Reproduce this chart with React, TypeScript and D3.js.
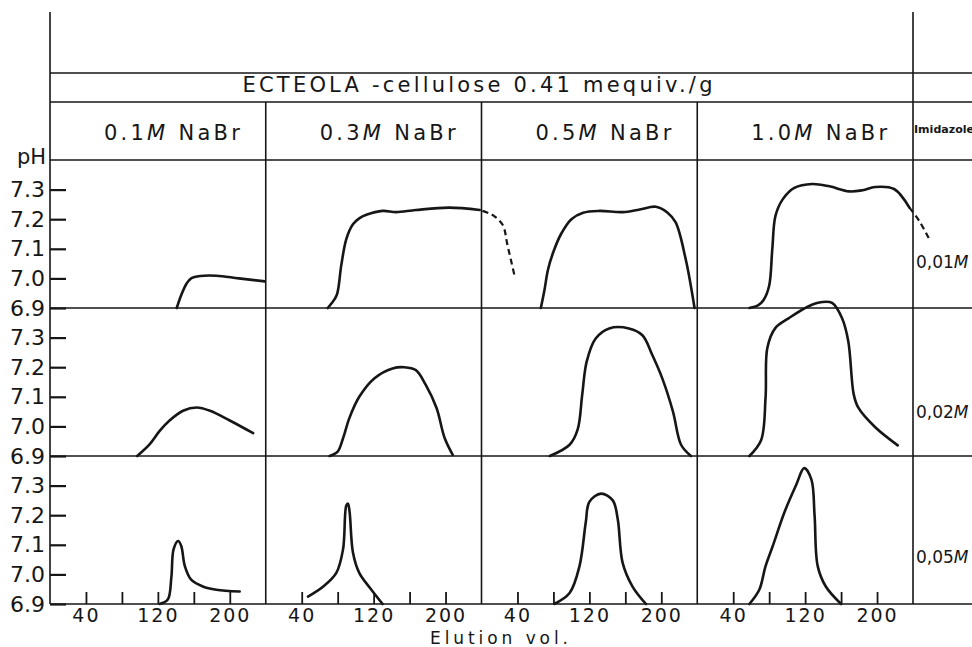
import React, { useRef, useEffect } from "react";
import * as d3 from "d3";

// NaBr concentration per column, imidazole concentration per row
const cols = ["0.1", "0.3", "0.5", "1.0"];
const rows = ["0,01", "0,02", "0,05"];
const yTicks = [6.9, 7.0, 7.1, 7.2, 7.3];
const xTicks = [40, 80, 120, 160, 200];
const xLabels = [40, 120, 200];

// [elution vol, pH]
const r1c1 = [[141, 6.9], [146, 6.944], [152, 6.983], [157, 7.0], [167, 7.008], [185, 7.009], [210, 7.0], [239, 6.99]];
const r1c2 = [[69, 6.9], [73, 6.915], [79, 6.944], [84, 7.044], [89.6, 7.133], [97, 7.183], [104, 7.203], [112, 7.215], [130, 7.228], [145, 7.224], [167, 7.231], [204, 7.239], [238, 7.231]];
const r1c3 = [[66, 6.9], [70, 6.96], [74, 7.03], [80, 7.09], [88.5, 7.15], [100, 7.2], [113, 7.222], [131, 7.228], [157, 7.224], [176, 7.233], [194, 7.242], [207, 7.222], [216, 7.189], [227, 7.067], [237, 6.9]];
const r1c3Dash = [[1, 7.228], [10, 7.218], [16, 7.206], [24, 7.178], [29, 7.111], [37, 7.006]];
const r1c4 = [[58, 6.9], [68, 6.91], [74, 6.928], [80, 6.975], [83.5, 7.1], [87, 7.211], [95, 7.267], [108, 7.306], [128, 7.319], [147, 7.311], [169, 7.294], [184, 7.298], [198, 7.309], [219, 7.302], [236, 7.239]];
const r1c4Dash = [[236, 7.239], [247, 7.194], [258, 7.133]];

const r2c1 = [[97, 6.9], [111, 6.94], [122, 6.985], [133, 7.02], [148, 7.053], [163, 7.064], [178, 7.053], [200, 7.02], [226, 6.977]];
const r2c2 = [[71, 6.9], [80, 6.915], [86, 6.96], [93, 7.028], [104, 7.1], [121, 7.163], [141, 7.196], [154, 7.2], [167, 7.19], [178, 7.14], [190, 7.062], [199, 6.961], [208, 6.904]];
const r2c3 = [[76, 6.9], [98, 6.938], [107, 6.99], [112, 7.106], [117, 7.219], [127, 7.297], [142, 7.331], [164, 7.331], [179, 7.308], [190, 7.241], [201, 7.163], [213, 7.05], [222, 6.938], [233, 6.9]];
const r2c4 = [[58, 6.9], [71, 6.953], [76, 7.098], [78, 7.266], [87, 7.333], [102, 7.366], [124, 7.406], [139, 7.42], [150, 7.417], [161, 7.366], [168, 7.288], [174, 7.109], [179, 7.064], [198, 6.997], [223, 6.936]];

const r3c1 = [[122, 6.9], [131, 6.915], [135, 6.99], [137.5, 7.085], [142.6, 7.113], [146, 7.096], [150, 7.028], [157, 6.982], [170, 6.959], [185, 6.948], [211, 6.942]];
const r3c2 = [[47, 6.925], [64, 6.959], [78.5, 7.005], [86, 7.085], [89.6, 7.233], [91.5, 7.239], [93.3, 7.21], [97, 7.074], [104, 7.005], [116, 6.954], [130, 6.9]];
const r3c3 = [[81, 6.9], [98, 6.937], [109, 7.028], [116, 7.176], [120, 7.245], [133, 7.273], [146, 7.25], [151.5, 7.188], [157, 7.039], [168, 6.959], [183, 6.9]];
const r3c4 = [[58, 6.9], [69, 6.948], [76, 7.028], [84, 7.096], [97, 7.21], [110, 7.302], [119, 7.359], [127, 7.32], [130.5, 7.2], [134, 7.028], [143, 6.959], [160, 6.9]];

const solid = [
  [r1c1, r1c2, r1c3, r1c4],
  [r2c1, r2c2, r2c3, r2c4],
  [r3c1, r3c2, r3c3, r3c4],
];
const dashed = [
  { row: 0, col: 2, pts: r1c3Dash },
  { row: 0, col: 3, pts: r1c4Dash },
];

const W = 972;
const H = 647;
const INK = "#161616";
const FONT = "'DejaVu Sans', sans-serif";

export default function App() {
  const svgRef = useRef<SVGSVGElement>(null);

  useEffect(() => {
    const svg = d3.select(svgRef.current);
    svg.selectAll("*").remove();

    const left = 50;
    const right = 913;
    const colBand = d3.scaleBand().domain(cols).range([left, right]);
    const rowBand = d3.scaleBand().domain(rows).range([160, 604]);
    const x = d3.scaleLinear().domain([0, 240]).range([0, colBand.bandwidth()]);
    const y = d3.scaleLinear().domain([6.9, 7.4]).range([rowBand.bandwidth(), 0]);

    const frame = svg.append("g").attr("stroke", INK).attr("stroke-width", 1.6);
    const hline = (yy: number, x1: number, x2: number) =>
      frame.append("line").attr("x1", x1).attr("x2", x2).attr("y1", yy).attr("y2", yy);
    const vline = (xx: number, y1: number, y2: number) =>
      frame.append("line").attr("x1", xx).attr("x2", xx).attr("y1", y1).attr("y2", y2);

    // outer frame & header bands
    vline(left, 12, 604);
    vline(right, 12, 604);
    hline(73, left, W);
    hline(102, left, W);
    hline(160, left, W);
    rows.forEach((r) => hline(rowBand(r)! + rowBand.bandwidth(), left, W));
    cols.slice(1).forEach((c) => vline(colBand(c)!, 102, 604));

    // title band
    svg
      .append("text")
      .attr("x", (left + right) / 2 - 4)
      .attr("y", 92)
      .attr("text-anchor", "middle")
      .attr("font-family", FONT)
      .attr("font-size", 21)
      .attr("fill", INK)
      .attr("textLength", 470)
      .attr("lengthAdjust", "spacing")
      .text("ECTEOLA -cellulose  0.41 mequiv./g");

    // column headers
    cols.forEach((c) => {
      const t = svg
        .append("text")
        .attr("x", colBand(c)! + colBand.bandwidth() / 2 + 14)
        .attr("y", 140)
        .attr("text-anchor", "middle")
        .attr("font-family", FONT)
        .attr("font-size", 21)
        .attr("fill", INK)
        .attr("textLength", 136)
        .attr("lengthAdjust", "spacing");
      t.append("tspan").text(c);
      t.append("tspan").attr("font-style", "italic").text("M");
      t.append("tspan").text(" NaBr");
    });

    svg
      .append("text")
      .attr("x", 914)
      .attr("y", 133)
      .attr("font-family", FONT)
      .attr("font-size", 10)
      .attr("font-weight", "bold")
      .attr("fill", INK)
      .attr("textLength", 60)
      .attr("lengthAdjust", "spacingAndGlyphs")
      .text("Imidazole");

    svg
      .append("text")
      .attr("x", 17)
      .attr("y", 164)
      .attr("font-family", FONT)
      .attr("font-size", 21)
      .attr("fill", INK)
      .text("pH");

    const line = d3
      .line<number[]>()
      .x((d) => x(d[0]))
      .y((d) => y(d[1]))
      .curve(d3.curveCatmullRom.alpha(0.5));

    rows.forEach((r, ri) => {
      const top = rowBand(r)!;

      // y axis on the left of the first column
      const yAxis = d3
        .axisLeft(y)
        .tickValues(yTicks)
        .tickSize(-16)
        .tickPadding(5)
        .tickFormat((d) => d3.format(".1f")(d as number));
      const ya = svg.append("g").attr("transform", `translate(${left},${top})`).call(yAxis);
      ya.select(".domain").remove();
      ya.selectAll("line").attr("stroke", INK).attr("stroke-width", 2.2);
      ya.selectAll("text")
        .attr("font-family", FONT)
        .attr("font-size", 22)
        .attr("fill", INK);

      // imidazole label at the right
      const lab = svg
        .append("text")
        .attr("x", 916)
        .attr("y", top + [108, 110, 107][ri])
        .attr("font-family", FONT)
        .attr("font-size", 17)
        .attr("fill", INK);
      lab.append("tspan").text(r);
      lab.append("tspan").attr("font-style", "italic").text("M");

      cols.forEach((c, ci) => {
        const g = svg.append("g").attr("transform", `translate(${colBand(c)},${top})`);

        if (ri === rows.length - 1) {
          const xAxis = d3
            .axisBottom(x)
            .tickValues(xTicks)
            .tickSize(-12)
            .tickPadding(5)
            .tickFormat((d) => (xLabels.includes(d as number) ? String(d) : ""));
          const xa = g
            .append("g")
            .attr("transform", `translate(0,${rowBand.bandwidth()})`)
            .call(xAxis);
          xa.select(".domain").remove();
          xa.selectAll("line").attr("stroke", INK).attr("stroke-width", 1.8);
          xa.selectAll("text")
            .attr("font-family", FONT)
            .attr("font-size", 19)
            .attr("letter-spacing", 2)
            .attr("fill", INK);
        }

        g.append("path")
          .attr("d", line(solid[ri][ci]))
          .attr("fill", "none")
          .attr("stroke", INK)
          .attr("stroke-width", 2.6)
          .attr("stroke-linecap", "round")
          .attr("stroke-linejoin", "round");

        dashed
          .filter((d) => d.row === ri && d.col === ci)
          .forEach((d) => {
            g.append("path")
              .attr("d", line(d.pts))
              .attr("fill", "none")
              .attr("stroke", INK)
              .attr("stroke-width", 2.2)
              .attr("stroke-dasharray", "6 4");
          });
      });
    });

    svg
      .append("text")
      .attr("x", 499)
      .attr("y", 644)
      .attr("text-anchor", "middle")
      .attr("font-family", FONT)
      .attr("font-size", 17)
      .attr("fill", INK)
      .attr("textLength", 138)
      .attr("lengthAdjust", "spacing")
      .text("Elution vol.");
  }, []);

  return (
    <div style={{ position: "absolute", left: 0, top: 0, background: "#fff" }}>
      <svg ref={svgRef} width={W} height={H} style={{ display: "block" }} />
    </div>
  );
}
